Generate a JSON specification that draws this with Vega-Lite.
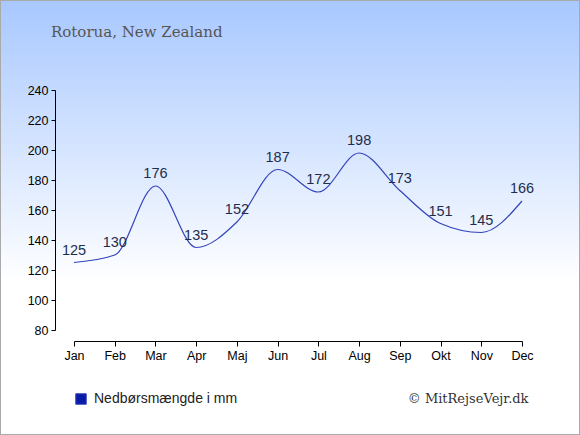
{
  "$schema": "https://vega.github.io/schema/vega-lite/v6.json",
  "width": 580,
  "height": 435,
  "autosize": {"type": "none"},
  "padding": 0,
  "background": "#ffffff",
  "title": {
    "text": "Rotorua, New Zealand",
    "anchor": "start",
    "orient": "top",
    "offset": 0,
    "dx": 51,
    "dy": 52,
    "baseline": "alphabetic",
    "font": "DejaVu Serif",
    "fontSize": 15,
    "fontWeight": "normal",
    "color": "#555555"
  },
  "data": {
    "values": [
      {"month": "Jan", "mm": 125},
      {"month": "Feb", "mm": 130},
      {"month": "Mar", "mm": 176},
      {"month": "Apr", "mm": 135},
      {"month": "Maj", "mm": 152},
      {"month": "Jun", "mm": 187},
      {"month": "Jul", "mm": 172},
      {"month": "Aug", "mm": 198},
      {"month": "Sep", "mm": 173},
      {"month": "Okt", "mm": 151},
      {"month": "Nov", "mm": 145},
      {"month": "Dec", "mm": 166}
    ]
  },
  "encoding": {
    "x": {
      "field": "month",
      "type": "ordinal",
      "sort": null,
      "scale": {"type": "point", "range": [74, 522], "padding": 0},
      "axis": {
        "orient": "bottom",
        "offset": -94,
        "labelAngle": 0,
        "title": "© MitRejseVejr.dk",
        "titleX": 528,
        "titleY": 57,
        "titleAlign": "right",
        "titleBaseline": "middle",
        "titleFont": "DejaVu Serif",
        "titleFontSize": 13,
        "titleFontWeight": "normal",
        "titleColor": "#333333",
        "domainColor": "#000000",
        "tickColor": "#000000",
        "tickSize": 5,
        "labelColor": "#000000",
        "labelFont": "Liberation Sans",
        "labelFontSize": 12.5,
        "labelPadding": 3,
        "grid": false
      }
    },
    "y": {
      "field": "mm",
      "type": "quantitative",
      "scale": {"domain": [80, 240], "range": [330, 90], "nice": false, "zero": false},
      "axis": {
        "orient": "left",
        "offset": -55,
        "values": [80, 100, 120, 140, 160, 180, 200, 220, 240],
        "title": null,
        "domainColor": "#000000",
        "tickColor": "#000000",
        "tickSize": 4,
        "labelColor": "#000000",
        "labelFont": "Liberation Sans",
        "labelFontSize": 12.5,
        "labelPadding": 3,
        "grid": false
      }
    }
  },
  "layer": [
    {
      "mark": {"type": "line", "interpolate": "monotone", "strokeWidth": 1.2},
      "encoding": {
        "color": {
          "datum": "Nedbørsmængde i mm",
          "scale": {"range": ["#3344bb"]},
          "legend": {
            "orient": "none",
            "legendX": 74,
            "legendY": 392,
            "title": null,
            "symbolType": "square",
            "symbolSize": 110,
            "labelFont": "Liberation Sans",
            "labelFontSize": 14,
            "labelColor": "#222222",
            "labelOffset": 6,
            "encode": {
              "symbols": {
                "update": {
                  "fill": {"value": "#0a1aa8"},
                  "stroke": {"value": "#8890cc"},
                  "strokeWidth": {"value": 1}
                }
              }
            }
          }
        }
      }
    },
    {
      "mark": {
        "type": "text",
        "baseline": "bottom",
        "dy": -5,
        "font": "Liberation Sans",
        "fontSize": 14.5,
        "color": "#1f2d4d"
      },
      "encoding": {
        "text": {"field": "mm", "type": "quantitative"}
      }
    }
  ],
  "config": {
    "view": {
      "fill": {
        "gradient": "linear",
        "x1": 0,
        "y1": 0,
        "x2": 0,
        "y2": 1,
        "stops": [
          {"offset": 0, "color": "#a8c8ff"},
          {"offset": 0.65, "color": "#ffffff"},
          {"offset": 1, "color": "#ffffff"}
        ]
      },
      "stroke": "#aaaaaa",
      "strokeWidth": 2
    }
  }
}
